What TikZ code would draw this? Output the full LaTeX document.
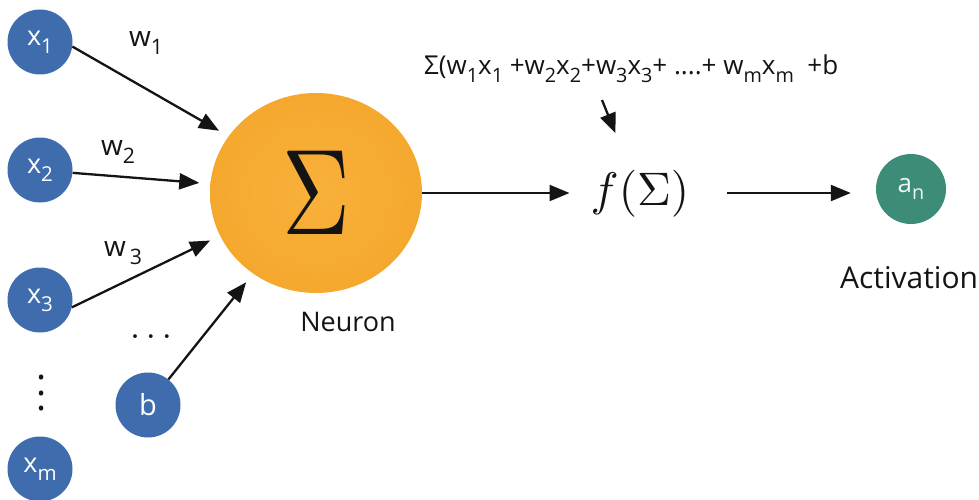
\documentclass[tikz,border=0pt]{standalone}
\usepackage{fontspec}
\setmainfont{Open Sans}
\usetikzlibrary{arrows.meta,shapes.geometric}
\definecolor{inblue}{HTML}{3E6CAD}
\definecolor{neuorange}{HTML}{F9B13A}
\definecolor{neuedge}{HTML}{F5A82E}
\definecolor{actgreen}{HTML}{3C8C78}
\definecolor{inktext}{HTML}{141414}
\newcommand{\lsub}[1]{\raisebox{-0.3em}{\scalebox{0.76}{#1}}}
\begin{document}
\begin{tikzpicture}[x=1pt,y=-1pt,
  inp/.style={circle,fill=inblue,text=white,minimum size=65pt,inner sep=0pt,
    font=\fontsize{27}{27}\selectfont},
  act/.style={circle,fill=actgreen,text=white!92!actgreen,minimum size=70pt,inner sep=0pt,
    font=\fontsize{26}{26}\selectfont},
  neuron/.style={ellipse,inner color=neuorange,outer color=neuedge,
    minimum width=212pt,minimum height=200pt,inner sep=0pt},
  wlbl/.style={inner sep=0pt,text=inktext,font=\fontsize{28}{28}\selectfont},
  txt/.style={inner sep=0pt,text=inktext},
  arr/.style={line width=2.3pt,draw=inktext,-{Triangle[length=20pt,width=16pt]}}]
\useasboundingbox (0,0) rectangle (979,500);
% inputs
\node[inp] (x1) at (40,42) {x\lsub{1}};
\node[inp] (x2) at (40,170) {x\lsub{2}};
\node[inp] (x3) at (40,300) {x\lsub{3}};
\node[inp] (xm) at (40,469) {x\lsub{m}};
\node[inp,font=\fontsize{29}{29}\selectfont] (b) at (148,405) {b};
% neuron
\node[neuron] (n) at (316,193) {\textcolor{inktext}{\scalebox{9.4}[12.2]{$\Sigma$}}};
\node[txt,font=\fontsize{27}{27}\selectfont] (nl) at (348,322) {Neuron};
% weights and dots
\node[wlbl] (w1) at (146,43) {w\lsub{1}};
\node[wlbl] (w2) at (118,152) {w\lsub{2}};
\node[wlbl] (w3) at (123,253) {w\hspace{4pt}\lsub{3}};
\node[txt] (hd) at (151,337) {\scalebox{3.6}{$\ldots$}};
\node[txt,anchor=south] (vd) at (42,411) {\scalebox{3.8}{$\vdots$}};
% formula, activation function, output
\node[txt,anchor=base west,font=\fontsize{26}{26}\selectfont] (form) at (424,75)
  {Σ(w\lsub{1}x\lsub{1} +w\lsub{2}x\lsub{2}+w\lsub{3}x\lsub{3}+ ....+ w\lsub{m}x\lsub{m} \ +b};
\node[txt] (f) at (640,194) {\scalebox{4.7}{$f(\Sigma)$}};
\node[act] (a) at (911,189) {a\lsub{n}};
\node[txt,anchor=base west,font=\fontsize{30}{30}\selectfont] (al) at (840,288) {Activation};
\coordinate (fs) at (602,100);
% connectors
\draw[arr,shorten >=11pt] (x1.-8) -- (n.147);
\draw[arr,shorten >=11pt] (x2.-5) -- (n.175);
\draw[arr,shorten >=11pt] (x3.-13) -- (n.204);
\draw[arr,shorten >=11pt] (b) -- (n.232);
\draw[arr,shorten >=21pt] (n.east) -- (f.west |- n.east);
\draw[arr,shorten <=38pt,shorten >=25pt] (f.east |- n.east) -- (a.west |- n.east);
\draw[arr,shorten >=40pt] (fs) -- (f);
\end{tikzpicture}
\end{document}
